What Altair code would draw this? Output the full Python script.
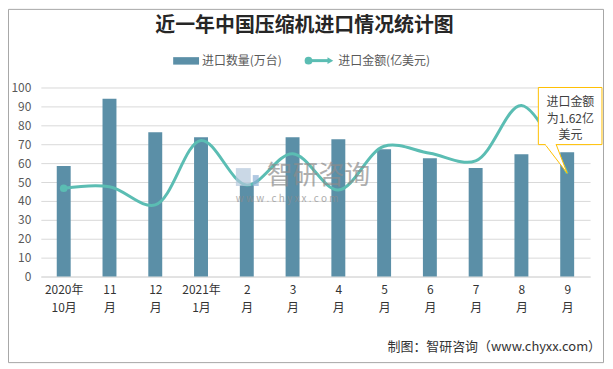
import altair as alt
import pandas as pd

# ---- data ----
months_top = ["2020年", "11", "12", "2021年", "2", "3", "4", "5", "6", "7", "8", "9"]
months_bottom = ["10月", "月", "月", "1月", "月", "月", "月", "月", "月", "月", "月", "月"]
qty = [58.5, 94, 76.3, 73.7, 48.4, 73.7, 72.6, 67.4, 62.6, 57.4, 64.7, 65.8]
amount = [46.7, 47.5, 37.9, 72.0, 48.4, 65.0, 45.8, 68.9, 65.2, 61.2, 90.5, 54.6]
y_ticks = list(range(0, 101, 10))
callout_lines = ["进口金额", "为1.62亿", "美元"]

BAR = "#5B8FA7"
LINE = "#5BBDB3"
GOLD = "#FFC000"
FONT = "Noto Sans CJK SC"

n = len(qty)
idx = list(range(n))
df = pd.DataFrame({"i": idx, "qty": qty, "amount": amount})

label_arr = "[" + ",".join(
    "['%s','%s']" % (a, b) for a, b in zip(months_top, months_bottom)
) + "][datum.value]"

xscale = alt.Scale(domain=[-0.5, n - 0.5], nice=False, zero=False, padding=0)
yscale = alt.Scale(domain=[0, 100], nice=False, padding=0)

x_axis = alt.Axis(
    values=idx, labelExpr=label_arr, title=None, grid=False, ticks=False,
    domain=True, domainColor="#D9D9D9", labelPadding=8, labelFontSize=12,
    labelColor="#333333", labelLineHeight=18, labelFont=FONT)
y_axis = alt.Axis(
    values=y_ticks, title=None, ticks=False, domain=False, grid=True,
    gridColor="#D9D9D9", labelFontSize=12, labelColor="#595959",
    labelPadding=10, labelFont=FONT, labelOverlap=False)

def X(field):
    return alt.X(field, scale=xscale, axis=x_axis)

def Y(field):
    return alt.Y(field, scale=yscale, axis=y_axis)

base = alt.Chart(df)
bars = base.mark_bar(size=14, color=BAR).encode(x=X("i:Q"), y=Y("qty:Q"))
line = base.mark_line(color=LINE, strokeWidth=3, interpolate="catmull-rom").encode(
    x=X("i:Q"), y=Y("amount:Q"))
first_pt = alt.Chart(df.head(1)).mark_point(
    filled=True, color=LINE, size=60, opacity=1).encode(x=X("i:Q"), y=Y("amount:Q"))

# ---- callout for last point ----
last_i = n - 1
last_v = amount[-1]
box_df = pd.DataFrame({"x": [last_i - 0.63], "x2": [last_i + 0.76], "y": [69.8], "y2": [100.0]})
box = alt.Chart(box_df).mark_rect(fill="white", stroke=GOLD, strokeWidth=1).encode(
    x=X("x:Q"), x2="x2:Q", y=Y("y:Q"), y2="y2:Q")
ax_, bx_ = last_i - 0.48, last_i - 0.24
mid = 69.8 - (0.24 / 0.48) * (69.8 - last_v)
ptr_df = pd.DataFrame({"x": [ax_, bx_, last_i], "y": [69.8, 69.8, last_v], "y2": [69.8, mid, last_v]})
ptr = alt.Chart(ptr_df).mark_area(fill="white", opacity=1).encode(
    x=X("x:Q"), y=Y("y:Q"), y2="y2:Q")
edge_df = pd.DataFrame({"x": [ax_, bx_], "y": [69.8, 69.8], "x2": [last_i, last_i], "y2": [last_v, last_v]})
edges = alt.Chart(edge_df).mark_rule(color=GOLD, strokeWidth=1).encode(
    x=X("x:Q"), y=Y("y:Q"), x2="x2:Q", y2="y2:Q")
gap_df = pd.DataFrame({"x": [ax_ + 0.01], "x2": [bx_ - 0.01], "y": [69.8]})
gap = alt.Chart(gap_df).mark_rule(color="white", strokeWidth=2).encode(
    x=X("x:Q"), x2="x2:Q", y=Y("y:Q"))
call_txt_df = pd.DataFrame({"x": [last_i + 0.07] * 3, "y": [92.4, 83.5, 74.6], "t": callout_lines})
call_txt = alt.Chart(call_txt_df).mark_text(
    fontSize=12, color="#404040", font=FONT, align="center", baseline="middle").encode(
    x=X("x:Q"), y=Y("y:Q"), text="t:N")

# ---- decorations (pixel positions relative to plot area) ----
dummy = pd.DataFrame({"d": [0]})
frame = alt.Chart(dummy).mark_rect(fill=None, stroke="#A6A6A6", strokeWidth=1).encode(
    x=alt.value(-32.5), x2=alt.value(565.5), y=alt.value(-78.5), y2=alt.value(276.5))

def txt(s, x, y, size=12, color="#595959", align="left", weight="normal", opacity=1.0):
    return alt.Chart(dummy).mark_text(
        text=s, fontSize=size, color=color, align=align, baseline="middle",
        fontWeight=weight, font=FONT, opacity=opacity).encode(
        x=alt.value(x), y=alt.value(y))

title = txt("近一年中国压缩机进口情况统计图", 265, -62, size=20, color="#262626",
            align="center", weight="bold")
leg_bar = alt.Chart(dummy).mark_rect(color=BAR).encode(
    x=alt.value(133), x2=alt.value(159), y=alt.value(-30.5), y2=alt.value(-23))
leg_bar_t = txt("进口数量(万台)", 162, -27)
leg_line = alt.Chart(dummy).mark_rule(color=LINE, strokeWidth=3).encode(
    x=alt.value(268), x2=alt.value(290), y=alt.value(-27))
leg_dot = alt.Chart(dummy).mark_point(filled=True, color=LINE, size=60, opacity=1).encode(
    x=alt.value(269), y=alt.value(-27))
leg_arrow = alt.Chart(dummy).mark_point(shape="triangle-right", filled=True, color=LINE,
                                        size=45, opacity=1).encode(
    x=alt.value(291), y=alt.value(-27))
leg_line_t = txt("进口金额(亿美元)", 299, -27)
footer = txt("制图：智研咨询（www.chyxx.com）", 563, 261, size=13, color="#333333", align="right")

wm1 = txt("智研咨询", 227, 89, size=26, color="#8C8C8C", opacity=0.7)
wm2 = txt("w w w . c h y x x . c o m", 196, 112, size=10, color="#8C8C8C", opacity=0.7)
logo_a = alt.Chart(dummy).mark_rect(color="#B4C8DC", opacity=0.7).encode(
    x=alt.value(196), x2=alt.value(211), y=alt.value(81), y2=alt.value(99))
logo_b = alt.Chart(dummy).mark_rect(color="#8FB0D4", opacity=0.7).encode(
    x=alt.value(213), x2=alt.value(219), y=alt.value(88), y2=alt.value(99))

chart = alt.layer(
    frame, bars, line, first_pt, ptr, box, edges, gap, call_txt,
    title, leg_bar, leg_bar_t, leg_line, leg_dot, leg_arrow, leg_line_t, footer,
    wm1, wm2, logo_a, logo_b,
).properties(
    width=552, height=190,
    background="white",
    autosize=alt.AutoSizeParams(type="none"),
    padding={"left": 33, "top": 79, "right": 15, "bottom": 88},
).configure_view(stroke=None)

chart.save("out.html", embed_options={"renderer": "svg", "actions": False})
